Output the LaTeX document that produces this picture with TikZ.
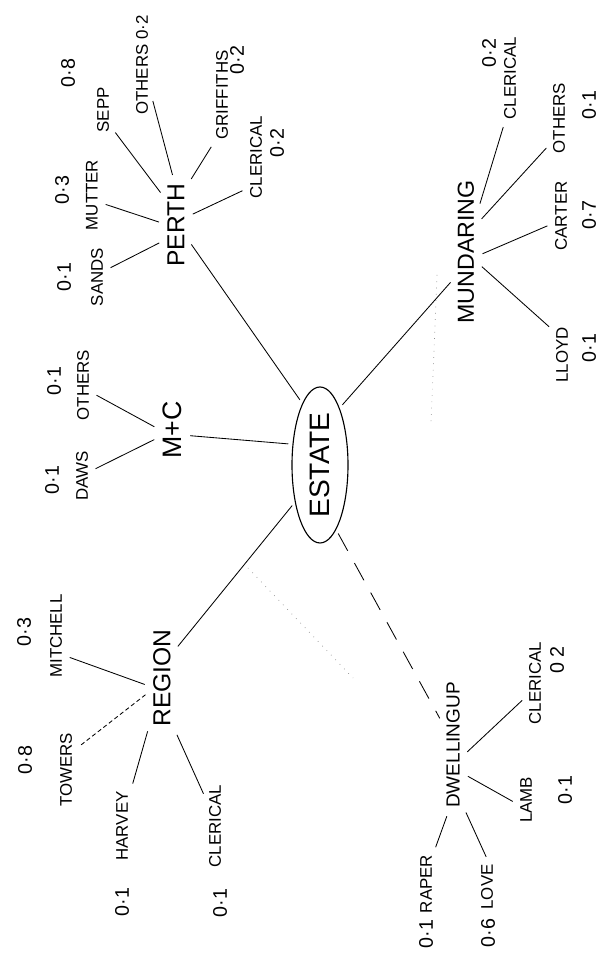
\documentclass[tikz,border=0pt]{standalone}
\usepackage{fontspec}
\setmainfont{Liberation Sans}
\usepackage{graphicx}
\usetikzlibrary{shapes.geometric}
\newcommand{\vtxt}[1]{\rotatebox{90}{#1}}

\begin{document}
\begin{tikzpicture}[
  hub/.style={draw, ellipse, line width=0.8pt, inner sep=0pt, minimum width=1.4cm, minimum height=3.9cm, font=\fontsize{20}{24}\selectfont},
  bnode/.style={inner sep=3pt, font=\fontsize{17.5}{20}\selectfont},
  lnode/.style={inner sep=2.5pt, font=\fontsize{12}{14}\selectfont},
  vnode/.style={inner sep=1pt, font=\fontsize{14}{16}\selectfont},
  arr/.style={line width=0.6pt, shorten <=3pt, shorten >=3pt},
  faint/.style={line width=0.5pt, black!45, loosely dotted}
]
  \useasboundingbox (0,0) rectangle (15.2,23.875);

  % centre and branches
  \node[hub] (E) at (8.0,12.25) {\vtxt{ESTATE}};
  \node[bnode] (P) at (4.4,18.25) {\vtxt{PERTH}};
  \node[bnode, font=\fontsize{19}{22}\selectfont] (MC) at (4.3,13.125) {\vtxt{M+C}};
  \node[bnode] (R) at (4.05,6.925) {\vtxt{REGION}};
  \node[bnode, font=\fontsize{16.5}{20}\selectfont] (MU) at (11.65,17.575) {\vtxt{MUNDARING}};
  \node[bnode, font=\fontsize{13.5}{16}\selectfont] (DW) at (11.325,5.25) {\vtxt{DWELLINGUP}};

  % Perth
  \node[lnode] (Sa) at (2.425,16.95) {\vtxt{SANDS}};
  \node[vnode] (Sav) at (1.6,16.95) {\vtxt{0·1}};
  \node[lnode] (Mu) at (2.3,19.0) {\vtxt{MUTTER}};
  \node[vnode] (Muv) at (1.55,19.125) {\vtxt{0·3}};
  \node[lnode] (Se) at (2.575,21.125) {\vtxt{SEPP}};
  \node[vnode] (Sev) at (1.7,22.05) {\vtxt{0·8}};
  \node[lnode] (PO) at (3.55,22.25) {\vtxt{OTHERS 0·2}};
  \node[lnode] (Gr) at (5.55,21.5) {\vtxt{GRIFFITHS}};
  \node[vnode] (Grv) at (5.925,22.375) {\vtxt{0·2}};
  \node[lnode] (PC) at (6.4,19.95) {\vtxt{CLERICAL}};
  \node[vnode] (PCv) at (6.925,20.3) {\vtxt{0·2}};

  % M+C
  \node[lnode] (Da) at (2.05,11.975) {\vtxt{DAWS}};
  \node[vnode] (Dav) at (1.3,11.875) {\vtxt{0·1}};
  \node[lnode] (MO) at (2.075,14.25) {\vtxt{OTHERS}};
  \node[vnode] (MOv) at (1.35,14.35) {\vtxt{0·1}};

  % Region
  \node[lnode] (Mi) at (1.4,7.975) {\vtxt{MITCHELL}};
  \node[vnode] (Miv) at (0.6,8.075) {\vtxt{0·3}};
  \node[lnode] (To) at (1.65,4.625) {\vtxt{TOWERS}};
  \node[vnode] (Tov) at (0.625,4.875) {\vtxt{0·8}};
  \node[lnode] (Ha) at (3.05,3.225) {\vtxt{HARVEY}};
  \node[vnode] (Hav) at (3.05,1.325) {\vtxt{0·1}};
  \node[lnode] (RC) at (5.375,3.225) {\vtxt{CLERICAL}};
  \node[vnode] (RCv) at (5.5,1.3) {\vtxt{0·1}};

  % Mundaring
  \node[lnode] (UC) at (12.75,21.925) {\vtxt{CLERICAL}};
  \node[vnode] (UCv) at (12.225,22.55) {\vtxt{0·2}};
  \node[lnode] (UO) at (13.975,20.925) {\vtxt{OTHERS}};
  \node[vnode] (UOv) at (14.725,21.25) {\vtxt{0·1}};
  \node[lnode] (Ca) at (14.025,18.475) {\vtxt{CARTER}};
  \node[vnode] (Cav) at (14.725,18.5) {\vtxt{0·7}};
  \node[lnode] (Ll) at (14.05,15.0) {\vtxt{LLOYD}};
  \node[vnode] (Llv) at (14.725,15.175) {\vtxt{0·1}};

  % Dwellingup
  \node[lnode] (Ra) at (10.65,1.775) {\vtxt{RAPER}};
  \node[vnode] (Rav) at (10.65,0.525) {\vtxt{0·1}};
  \node[lnode] (Lo) at (12.175,1.7) {\vtxt{LOVE}};
  \node[vnode] (Lov) at (12.2,0.55) {\vtxt{0·6}};
  \node[lnode] (La) at (13.15,3.875) {\vtxt{LAMB}};
  \node[vnode] (Lav) at (14.125,4.125) {\vtxt{0·1}};
  \node[lnode] (DC) at (13.375,6.8) {\vtxt{CLERICAL}};
  \node[vnode] (DCv) at (13.925,7.375) {\vtxt{0 2}};

  % stray pencil marks
  \coordinate (s1) at (10.925,17.0);
  \coordinate (s2) at (10.775,13.3);
  \coordinate (s3) at (6.2,9.675);
  \coordinate (s4) at (8.825,6.925);
  \draw[faint] (s1) -- (s2);
  \draw[faint] (s3) -- (s4);

  \draw[arr] (P.-51) -- (E.106);
  \draw[arr] (MC.-21) -- (E.143);
  \draw[arr] (E.71) -- (MU.245);
  \draw[arr] (R.65) -- (E.236);
  \draw[arr, dash pattern=on 14pt off 10pt] (E.-76) -- (DW.116);

  \draw[arr] (P.231) -- (Sa.37);
  \draw[arr] (P.173) -- (Mu.-40);
  \draw[arr] (P.114) -- (Se.-63);
  \draw[arr] (P.93) -- (PO.-73);
  \draw[arr] (P.73) -- (Gr.260);
  \draw[arr] (P.35) -- (PC.253);

  \draw[arr] (MC.209) -- (Da.29);
  \draw[arr] (MC.175) -- (MO.-40);

  \draw[arr] (R.211) -- (Mi.-64);
  \draw[arr, densely dashed] (R.227) -- (To.65);
  \draw[arr] (R.255) -- (Ha.76);
  \draw[arr] (R.-76) -- (RC.109);

  \draw[arr] (MU.74) -- (UC.263);
  \draw[arr] (MU.67) -- (UO.250);
  \draw[arr] (MU.-15) -- (Ca.220);
  \draw[arr] (MU.-43) -- (Ll.111);

  \draw[arr] (DW.266) -- (Ra.76);
  \draw[arr] (DW.-80) -- (Lo.88);
  \draw[arr] (DW.-69) -- (La.200);
  \draw[arr] (DW.-41) -- (DC.236);
\end{tikzpicture}
\end{document}
